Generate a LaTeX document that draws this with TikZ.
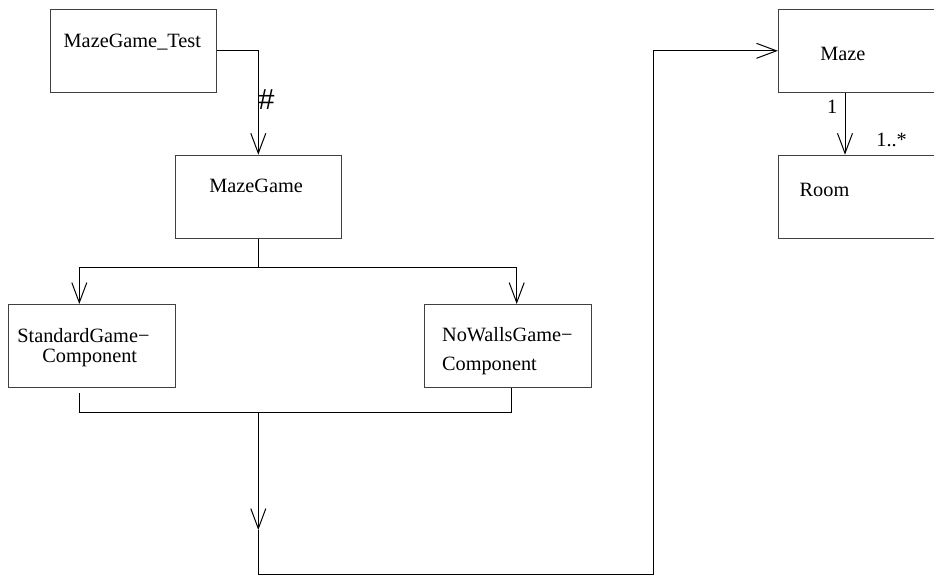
\documentclass[tikz,border=0pt]{standalone}
\usepackage{fontspec}
\setmainfont{Liberation Serif}
\newfontfamily\hashfont{Liberation Sans}
\usetikzlibrary{arrows.meta,calc}

\begin{document}
\begin{tikzpicture}[x=0.5pt,y=-0.5pt,
  cls/.style={draw=black!75,line width=.5pt,minimum width=83.3pt,
             minimum height=41.5pt,inner sep=0pt},
  txt/.style={inner sep=0pt,anchor=base west,align=left,
             font=\fontsize{10.15}{10}\selectfont},
  ar/.style={-{Straight Barb[length=10pt,width=7.5pt]},line width=.5pt},
  ln/.style={line width=.5pt}]

\fill[white] (0,0) rectangle (934,575);
\clip (0,0) rectangle (934,575);

% classes
\node[cls] (test)    at (133.3,50.8)  {};
\node[cls] (game)    at (258.3,196.7) {};
\node[cls] (std)     at (91.7,346)    {};
\node[cls] (nowalls) at (508,346)     {};
\node[cls] (maze)    at (861.7,50.8)  {};
\node[cls] (room)    at (861.7,196.7) {};

% class names (multi-line ones sit on their last line)
\node[txt] (testt)    at (63.3,47.7)  {MazeGame\_Test};
\node[txt] (gamet)    at (209,192.7)  {MazeGame};
\node[txt] (stdt)     at (17,362.7)   {StandardGame−\\\hspace*{12.5pt}Component};
\node[txt,font=\fontsize{10.15}{14.5}\selectfont] (nowallst) at (441.7,370.7)
  {NoWallsGame−\\Component};
\node[txt] (mazet)    at (820,60)     {Maze};
\node[txt] (roomt)    at (799.3,196.7){Room};

% labels
\node[txt,font=\hashfont\fontsize{14.5}{16}\selectfont] (hash) at (258,109.3) {\#};
\node[txt] (one)  at (826.7,113.3) {1};
\node[txt] (many) at (876,146.7)   {1..*};

% connectors
\coordinate (split) at (258.3,267.3);
\coordinate (merge) at (258.3,412.7);
\coordinate (mid)   at (258.3,530);
\coordinate (rise)  at (653.3,574);

\draw[ar] (test.east) -| (game.north);
\draw[ln] (game.south) -- (split);
\draw[ar] (split) -| ($(std.north)+(-12.4,0)$);
\draw[ar] (split) -| ($(nowalls.north)+(8.7,0)$);
\draw[ln] ($(std.south)+(-12.4,5)$) |- (merge);
\draw[ln] ($(nowalls.south)+(3.7,0)$) |- (merge);
\draw[ar] (merge) -- (mid);
\draw[ar] (mid) |- (rise) |- (maze.west);
\draw[ar] ($(maze.south)+(-16.7,0)$) -- ($(room.north)+(-16.7,0)$);

\end{tikzpicture}
\end{document}
